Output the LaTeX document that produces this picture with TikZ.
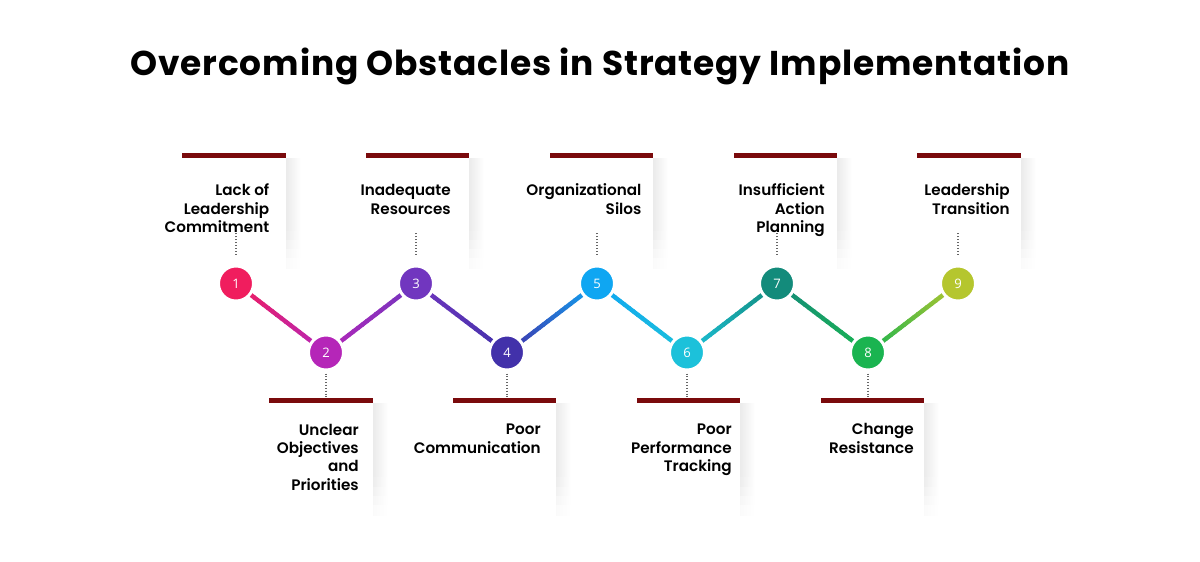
\documentclass[tikz,border=0pt]{standalone}
\usepackage{fontspec}
\usetikzlibrary{calc,backgrounds}
\setmainfont{Poppins}
\newfontfamily\titlefamily{Poppins}[LetterSpace=2.5]
\IfFontExistsTF{Poppins SemiBold}{\newfontfamily\itemfamily{Poppins SemiBold}\newcommand\itemfont{\itemfamily}}{\newfontfamily\itemfamily{Poppins}\newcommand\itemfont{\itemfamily\bfseries}}
\newfontfamily\numfamily{Open Sans}
\definecolor{c1}{HTML}{F01D5E}
\definecolor{c2}{HTML}{B526B8}
\definecolor{c3}{HTML}{7136BF}
\definecolor{c4}{HTML}{4231AA}
\definecolor{c5}{HTML}{0FA6F2}
\definecolor{c6}{HTML}{1CC1DA}
\definecolor{c7}{HTML}{138B7B}
\definecolor{c8}{HTML}{1AB450}
\definecolor{c9}{HTML}{B5C62E}
\definecolor{barred}{HTML}{7A0A0C}
\newcommand\panelshadow[3]{%
  \foreach \j in {0,...,11} {%
    \pgfmathsetmacro\ya{#2+\j*(#3-#2)/12}%
    \pgfmathsetmacro\yb{#2+(\j+1)*(#3-#2)/12+0.6}%
    \pgfmathsetmacro\shint{8*min(1,(12-\j)/4.5)}%
    \shade[left color=black!\shint, right color=white] (#1,\ya) rectangle (#1+15,\yb);
  }%
}
\tikzset{
  num/.style={circle, inner sep=0pt, minimum size=26.25pt, draw=white, line width=2.25pt,
    text=white, font=\numfamily\fontsize{9.8}{11}\selectfont},
  label/.style={align=right, inner sep=0pt, anchor=base east,
    font=\itemfont\fontsize{11.4}{13.75}\selectfont},
  dotline/.style={gray!80!black, line width=0.8pt, dash pattern=on 0.75pt off 1.4pt},
  conn/.style={line width=3.3pt, line cap=butt},
  bar/.style={fill=barred}
}
\begin{document}
\begin{tikzpicture}[x=0.75pt,y=-0.75pt]
\useasboundingbox (0,0) rectangle (1200,561);
% title
\node[anchor=base, inner sep=0pt, font=\titlefamily\bfseries\fontsize{25.8}{30}\selectfont] (title) at (600,75) {Overcoming Obstacles in Strategy Implementation};
% panels: top
\foreach \xl/\xr in {182/286, 366/469, 550/653, 734/837, 917/1021} {
  \panelshadow{\xr}{158}{268}
  \fill[bar] (\xl,153) rectangle (\xr,158.3);
}
% panels: bottom
\foreach \xl/\xr in {269/373, 453/556, 637/740, 821/924} {
  \panelshadow{\xr}{403}{515}
  \fill[bar] (\xl,398) rectangle (\xr,403);
}
% labels (anchored at the baseline of the last line)
\node[label] (t1) at (269.5,232.6) {Lack of\\Leadership\\Commitment};
\node[label] (t3) at (451,214.3) {Inadequate\\Resources};
\node[label] (t5) at (641.7,214.3) {Organizational\\Silos};
\node[label] (t7) at (825,232.6) {Insufficient\\Action\\Planning};
\node[label] (t9) at (1010,214.3) {Leadership\\Transition};
\node[label] (t2) at (359,490) {Unclear\\Objectives\\and\\Priorities};
\node[label] (t4) at (541,453.3) {Poor\\Communication};
\node[label] (t6) at (732,471.6) {Poor\\Performance\\Tracking};
\node[label] (t8) at (914,453.3) {Change\\Resistance};
% circles
\foreach \i/\x/\y in {1/236/283.5, 2/326/352.5, 3/416/283.5, 4/507/352.5, 5/597/283.5, 6/687/352.5, 7/777/283.5, 8/868/352.5, 9/958/283.5} {
  \node[num, fill=c\i] (c\i) at (\x,\y) {\i};
}
% dotted leaders
\foreach \i in {1,3,5,7,9} {
  \draw[dotline] ($(c\i.north)+(0,-10)$) -- ++(0,-22);
}
\foreach \i in {2,4,6,8} {
  \draw[dotline] ($(c\i.south)+(0,2)$) -- ++(0,23);
}
% gradient connectors
\begin{scope}[on background layer]
\foreach \a/\b in {1/2,2/3,3/4,4/5,5/6,6/7,7/8,8/9} {
  \foreach \k in {0,...,19} {
    \pgfmathsetmacro\s{\k/20}
    \pgfmathsetmacro\e{min(1,(\k+1)/20+0.01)}
    \pgfmathsetmacro\p{100-(\k+0.5)*5}
    \draw[conn, color=c\a!\p!c\b] ($(c\a)!\s!(c\b)$) -- ($(c\a)!\e!(c\b)$);
  }
}
\end{scope}
\end{tikzpicture}
\end{document}
